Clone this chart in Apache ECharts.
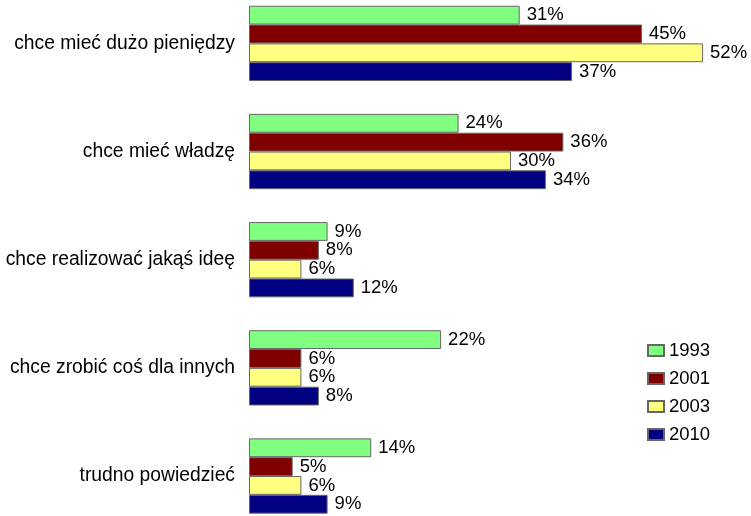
<!DOCTYPE html>
<html>
<head>
<meta charset="utf-8">
<script src="https://cdn.jsdelivr.net/npm/echarts@6/dist/echarts.min.js"></script>
<style>
  html, body { margin: 0; padding: 0; background: #fff; }
  #chart { width: 751px; height: 516px; }
</style>
</head>
<body>
<div id="chart"></div>
<script>
// Answers to the question, top to bottom
const categories = [
  'chce mieć dużo pieniędzy',
  'chce mieć władzę',
  'chce realizować jakąś ideę',
  'chce zrobić coś dla innych',
  'trudno powiedzieć'
];

// Survey years
const years = ['1993', '2001', '2003', '2010'];

// Percent of answers per year, in category order
const values1993 = [31, 24, 9, 22, 14];
const values2001 = [45, 36, 8, 6, 5];
const values2003 = [52, 30, 6, 6, 6];
const values2010 = [37, 34, 12, 8, 9];

const seriesValues = [values1993, values2001, values2003, values2010];
const colors = ['#80FF80', '#800000', '#FFFF80', '#000080'];

const FONT = 'Liberation Sans, Arial, sans-serif';

const chart = echarts.init(document.getElementById('chart'), null, { renderer: 'canvas' });

chart.setOption({
  backgroundColor: '#ffffff',
  animation: false,
  grid: {
    left: 249,
    width: 489,
    top: -10.7,
    height: 540.8,
    containLabel: false,
    outerBoundsMode: 'none'
  },
  legend: {
    orient: 'vertical',
    left: 647,
    top: 340.5,
    itemWidth: 16,
    itemHeight: 11,
    itemGap: 8,
    icon: 'rect',
    textStyle: {
      fontFamily: FONT,
      fontSize: 18.5,
      lineHeight: 18,
      color: '#000',
      padding: [2, 0, 0, 0]
    },
    padding: 0,
    data: years
  },
  xAxis: {
    type: 'value',
    min: 0,
    max: 56,
    show: false
  },
  yAxis: {
    type: 'category',
    inverse: true,
    data: categories,
    axisLine: { show: false },
    axisTick: { show: false },
    splitLine: { show: false },
    axisLabel: {
      margin: 14,
      fontFamily: FONT,
      fontSize: 19.3,
      color: '#000',
      padding: [4, 0, 0, 0]
    }
  },
  series: years.map((y, i) => ({
    name: y,
    type: 'bar',
    data: seriesValues[i],
    barGap: '0%',
    barCategoryGap: '30.4%',
    itemStyle: {
      color: colors[i],
      borderColor: '#666666',
      borderWidth: 1
    },
    label: {
      show: true,
      position: 'right',
      distance: 7,
      formatter: '{c}%',
      fontFamily: FONT,
      fontSize: 18.5,
      color: '#000',
      padding: [2, 0, 0, 0]
    }
  }))
});
</script>
</body>
</html>
